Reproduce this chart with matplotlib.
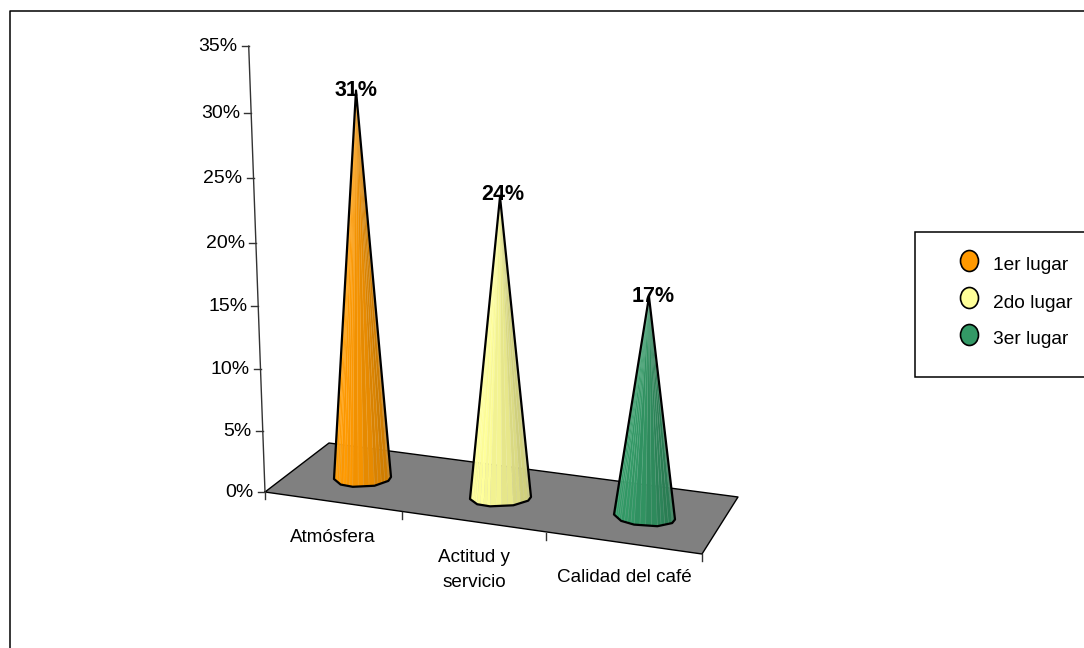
import numpy as np
import matplotlib
matplotlib.use('Agg')
import matplotlib.pyplot as plt
from matplotlib.patches import Polygon, Ellipse, Rectangle
from matplotlib.colors import to_rgb

plt.rcParams['font.family'] = ['Liberation Sans', 'DejaVu Sans']

# Datos del grafico
categorias = ['Atmósfera', 'Actitud y\nservicio', 'Calidad del café']
valores = [31, 24, 17]
etiquetas = ['31%', '24%', '17%']
series = ['1er lugar', '2do lugar', '3er lugar']
colores = ['#FF9900', '#FFFF99', '#339966']
ticks_y = [0, 5, 10, 15, 20, 25, 30, 35]

# Figura en pixeles, el eje y va hacia abajo
fig = plt.figure(figsize=(10.84, 6.48), dpi=100)
ax = fig.add_axes([0, 0, 1, 1])
ax.set_xlim(0, 1084)
ax.set_ylim(648, 0)
ax.axis('off')


# Escala del eje de valores (con perspectiva)
def eje_y(v):
    return 492 - v * (12.11 + 0.018 * v)


def eje_x(v):
    return 265 - (492 - eje_y(v)) * 16.3 / 446


# Marco exterior
ax.plot([9.5, 9.5, 1084], [648, 10.5, 10.5], color='black', lw=1.1)

# Suelo
suelo = [(265, 492), (329, 443), (738, 497), (702, 554)]
ax.add_patch(Polygon(suelo, closed=True, facecolor='#808080', edgecolor='none', zorder=1))
ax.plot([265, 702, 738, 329, 265], [492, 554, 497, 443, 492], color='black', lw=1.0, zorder=2)

# Eje vertical
ax.plot([eje_x(0), eje_x(35)], [eje_y(0), eje_y(35)], color='#333333', lw=1.0, zorder=2)
for t in ticks_y:
    ax.plot([eje_x(t) - 7, eje_x(t)], [eje_y(t), eje_y(t)], color='#333333', lw=1.0, zorder=2)
    ax.text(eje_x(t) - 11, eje_y(t) + 0.5, '%d%%' % t, ha='right', va='center', fontsize=14, color='black')

# Marcas del eje de categorias
for x0, y0 in [(265, 492), (402, 512), (546, 533), (702, 554)]:
    ax.plot([x0, x0], [y0, y0 + 7], color='#333333', lw=1.0, zorder=2)

pos_cat = [(333, 537), (474.5, 570), (624, 578)]
for nombre, (xc, yc) in zip(categorias, pos_cat):
    ax.text(xc, yc, nombre, ha='center', va='center', fontsize=13.6, color='black', linespacing=1.6)

# Conos: punta, centro de la base, radios, escala
punta_x = [356, 500, 649]
base_x = [362.5, 500.5, 644.5]
base_y = [478, 498, 517]
radio_x = [28.5, 30.5, 30.5]
radio_y = [9, 8.5, 9]
incl = [-1, -1, 2.5]
escala = [12.5, 12.55, 12.95]
pos_etq = [(356, 90), (502.5, 195), (653, 297)]
# esquinas de la base, que no es redonda del todo
ang_base = np.radians([180, 140, 110, 65, 25, 0])

for i, v in enumerate(valores):
    tip = (punta_x[i], base_y[i] - v * escala[i])
    bx = base_x[i] + radio_x[i] * np.cos(ang_base)
    by = base_y[i] + radio_y[i] * np.sin(ang_base) + incl[i] * np.cos(ang_base)
    # subdividir cada lado para las bandas de color
    seg = range(len(bx) - 1)
    fx = np.concatenate([np.linspace(bx[k], bx[k + 1], 4, endpoint=False) for k in seg] + [[bx[-1]]])
    fy = np.concatenate([np.linspace(by[k], by[k + 1], 4, endpoint=False) for k in seg] + [[by[-1]]])
    c = np.array(to_rgb(colores[i]))
    n = len(fx) - 1
    for k in range(n):
        s = (fx[k] - fx[0]) / (fx[-1] - fx[0])
        col = c * (1.0 - 0.24 * s ** 1.4)
        if k % 2 == 1:
            col = np.minimum(col * 1.03, 1)
        ax.add_patch(Polygon([tip, (fx[k], fy[k]), (fx[k + 1], fy[k + 1])], closed=True,
                             facecolor=col, edgecolor=col, lw=0.3, zorder=3))
        # lineas claras entre bandas
        ax.plot([tip[0], fx[k]], [tip[1], fy[k]], color='white', lw=0.4, alpha=0.2, zorder=3.5)
    contorno = [tip] + list(zip(bx, by)) + [tip]
    ax.add_patch(Polygon(contorno, closed=True, facecolor='none', edgecolor='black', lw=1.6,
                         joinstyle='round', zorder=4))
    ax.text(pos_etq[i][0], pos_etq[i][1], etiquetas[i], ha='center', va='center',
            fontsize=15.5, fontweight='bold', color='black', zorder=5)

# Leyenda
ax.add_patch(Rectangle((914.5, 232), 175, 145, facecolor='white', edgecolor='black', lw=1.1, zorder=2))
pos_ley = [261, 298, 335]
for nombre, col, y0 in zip(series, colores, pos_ley):
    ax.add_patch(Ellipse((969.5, y0), 18, 21, facecolor=col, edgecolor='black', lw=1.2, zorder=3))
    ax.text(993, y0 + 5, nombre, ha='left', va='center', fontsize=13.8, color='black', zorder=3)

fig.savefig('out.png', dpi=100)
